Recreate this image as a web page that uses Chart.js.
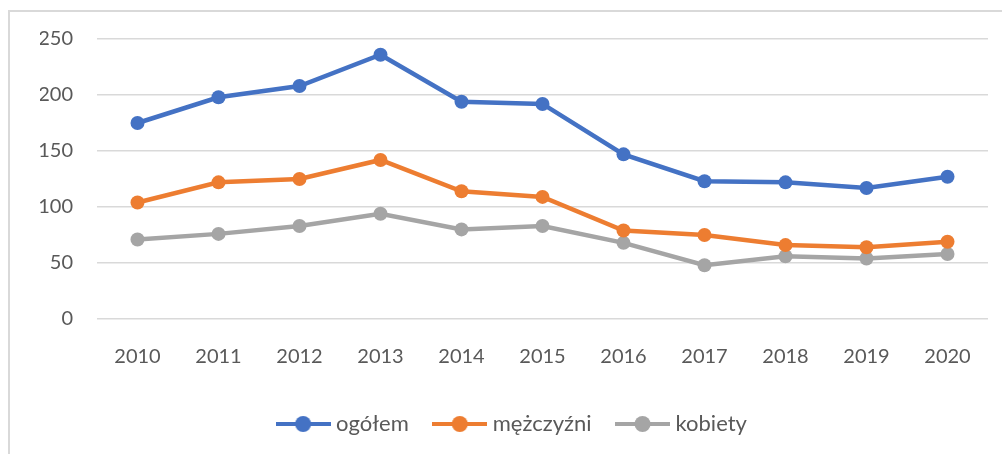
<!DOCTYPE html>
<html>
<head>
<meta charset="utf-8">
<script src="https://cdn.jsdelivr.net/npm/chart.js@4/dist/chart.umd.min.js"></script>
<style>
  html, body { margin: 0; padding: 0; background: #fff; }
  body { width: 1002px; height: 454px; overflow: hidden; position: relative; }
  #frame {
    position: absolute; left: 8px; top: 10px; width: 994px; height: 444px;
    border-left: 2px solid #d9d9d9; border-top: 2px solid #d9d9d9;
  }
  #wrap { position: absolute; left: 0; top: -9px; width: 992px; height: 451px; }
</style>
</head>
<body>
<div id="frame"><div id="wrap"><canvas id="lineChart"></canvas></div></div>
<script>
// data
const years = ['2010', '2011', '2012', '2013', '2014', '2015', '2016', '2017', '2018', '2019', '2020'];
const ogolem = [175, 198, 208, 236, 194, 192, 147, 123, 122, 117, 127];
const mezczyzni = [104, 122, 125, 142, 114, 109, 79, 75, 66, 64, 69];
const kobiety = [71, 76, 83, 94, 80, 83, 68, 48, 56, 54, 58];
const yTicks = [0, 50, 100, 150, 200, 250];

const colors = ['#4472c4', '#ed7d31', '#a5a5a5'];
const fontFamily = 'Lato, "Open Sans", sans-serif';

// legend marker: short line with a dot in the middle
function legendMarker(color) {
    const c = document.createElement('canvas');
    c.width = 55;
    c.height = 18;
    const g = c.getContext('2d');
    g.strokeStyle = color;
    g.lineWidth = 4;
    g.beginPath();
    g.moveTo(0, 9);
    g.lineTo(55, 9);
    g.stroke();
    g.fillStyle = color;
    g.beginPath();
    g.arc(27.5, 9, 8, 0, Math.PI * 2);
    g.fill();
    return c;
}

function series(label, values, color) {
    return {
        label: label,
        data: values,
        borderColor: color,
        backgroundColor: color,
        borderWidth: 4.5,
        pointRadius: 7,
        pointHoverRadius: 7,
        pointBorderWidth: 0,
        tension: 0
    };
}

const ctx = document.getElementById('lineChart').getContext('2d');
new Chart(ctx, {
    type: 'line',
    data: {
        labels: years,
        datasets: [
            series('ogółem', ogolem, colors[0]),
            series('mężczyźni', mezczyzni, colors[1]),
            series('kobiety', kobiety, colors[2])
        ]
    },
    options: {
        responsive: true,
        maintainAspectRatio: false,
        animation: false,
        layout: { padding: { left: 30, right: 14, top: 16, bottom: 9 } },
        scales: {
            x: {
                offset: true,
                grid: { display: false, drawTicks: false },
                border: { display: false },
                ticks: { color: '#595959', font: { family: fontFamily, size: 20 }, padding: 26, maxRotation: 0 },
                afterFit: function(scale) { scale.height = 65; }
            },
            y: {
                min: 0,
                max: 250,
                afterBuildTicks: function(scale) { scale.ticks = yTicks.map(v => ({ value: v })); },
                grid: { color: '#d9d9d9', lineWidth: 1.5, drawTicks: false },
                border: { display: false },
                ticks: { color: '#595959', font: { family: fontFamily, size: 20 }, padding: 24 },
                afterFit: function(scale) { scale.width = 57; }
            }
        },
        plugins: {
            tooltip: { enabled: false },
            legend: {
                position: 'bottom',
                labels: {
                    color: '#595959',
                    font: { family: fontFamily, size: 22 },
                    usePointStyle: true,
                    pointStyleWidth: 44,
                    padding: 29,
                    generateLabels: function(chart) {
                        return chart.data.datasets.map((ds, i) => ({
                            text: ds.label,
                            fillStyle: ds.borderColor,
                            strokeStyle: ds.borderColor,
                            fontColor: '#595959',
                            lineWidth: 0,
                            pointStyle: legendMarker(ds.borderColor),
                            datasetIndex: i
                        }));
                    }
                }
            }
        }
    }
});
</script>
</body>
</html>
